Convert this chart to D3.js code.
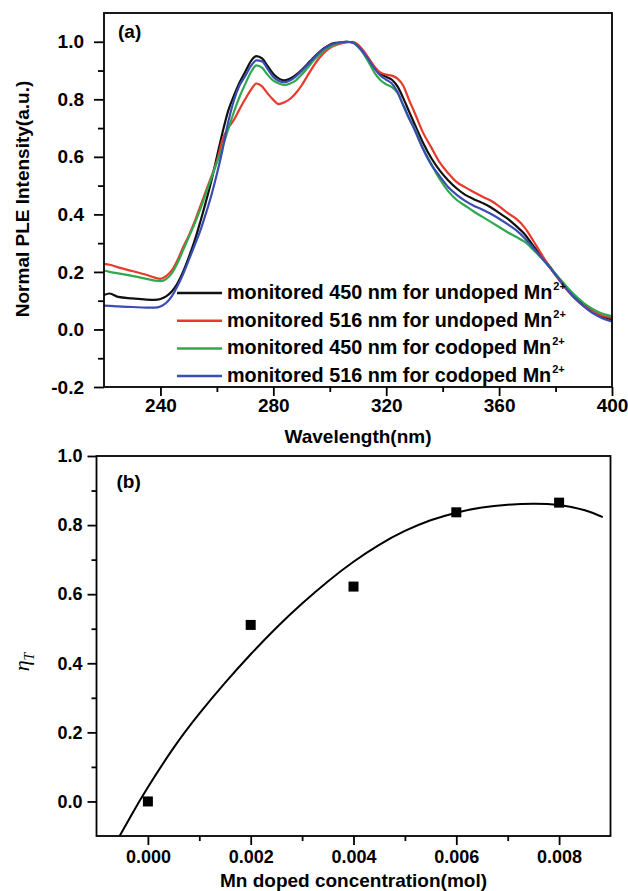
<!DOCTYPE html>
<html>
<head>
<meta charset="utf-8">
<script src="https://cdn.jsdelivr.net/npm/d3@7"></script>
<style>
  body { margin: 0; background: #fff; }
  svg { display: block; }
</style>
</head>
<body>
<svg id="chart" width="628" height="891"></svg>
<script>
// ---- panel (a): PLE spectra, wavelength grid + one array per curve
var wavelength = [220, 222, 225, 230, 235, 238, 240,
    242, 244, 246, 248, 250, 252, 254, 256, 258, 260, 262, 264, 266, 268, 270, 272, 274, 276, 278, 280,
    282, 284, 286, 288, 290, 292, 294, 296, 298, 300, 302, 304, 306, 308, 310, 312, 314, 316, 318, 320,
    322, 324, 326, 328, 330,
    333, 336, 339, 342, 345, 348, 351, 354, 357, 360, 363, 366, 369, 372, 375, 378, 381, 384, 387, 390, 393, 396, 400];

var undoped450 = [0.120, 0.125, 0.113, 0.108, 0.104, 0.103, 0.106,
    0.115, 0.132, 0.160, 0.200, 0.250, 0.305, 0.370, 0.440, 0.515, 0.600, 0.685, 0.760, 0.812, 0.858, 0.895, 0.932, 0.950, 0.942, 0.915, 0.888,
    0.872, 0.866, 0.872, 0.885, 0.902, 0.922, 0.943, 0.962, 0.978, 0.990, 0.996, 0.998, 1.000, 0.998, 0.985, 0.962, 0.935, 0.908, 0.888, 0.878,
    0.868, 0.845, 0.805, 0.760, 0.715,
    0.650, 0.595, 0.552, 0.518, 0.490, 0.468, 0.453, 0.440, 0.425, 0.405, 0.385, 0.360, 0.332, 0.292, 0.255, 0.218, 0.180, 0.145, 0.112, 0.085, 0.064, 0.048, 0.035];

var undoped516 = [0.228, 0.225, 0.216, 0.203, 0.190, 0.180, 0.176,
    0.185, 0.205, 0.240, 0.285, 0.325, 0.372, 0.425, 0.478, 0.530, 0.585, 0.660, 0.700, 0.728, 0.765, 0.800, 0.832, 0.855, 0.845, 0.820, 0.798,
    0.783, 0.790, 0.802, 0.822, 0.848, 0.880, 0.912, 0.940, 0.962, 0.978, 0.988, 0.994, 0.998, 1.000, 0.990, 0.968, 0.940, 0.912, 0.893, 0.886,
    0.882, 0.872, 0.848, 0.800, 0.755,
    0.685, 0.632, 0.580, 0.543, 0.512, 0.494, 0.478, 0.462, 0.448, 0.428, 0.405, 0.385, 0.355, 0.310, 0.262, 0.215, 0.175, 0.138, 0.106, 0.082, 0.063, 0.050, 0.040];

var codoped450 = [0.205, 0.200, 0.195, 0.186, 0.176, 0.170, 0.168,
    0.175, 0.195, 0.230, 0.275, 0.320, 0.365, 0.415, 0.470, 0.525, 0.580, 0.635, 0.695, 0.755, 0.808, 0.852, 0.893, 0.918, 0.910, 0.885, 0.865,
    0.855, 0.850, 0.855, 0.866, 0.885, 0.908, 0.932, 0.952, 0.970, 0.982, 0.992, 0.997, 1.000, 0.998, 0.983, 0.958, 0.925, 0.890, 0.866, 0.852,
    0.842, 0.822, 0.780, 0.735, 0.700,
    0.630, 0.575, 0.522, 0.480, 0.450, 0.430, 0.410, 0.392, 0.374, 0.356, 0.338, 0.322, 0.305, 0.278, 0.248, 0.215, 0.182, 0.148, 0.118, 0.092, 0.072, 0.057, 0.046];

var codoped516 = [0.083, 0.082, 0.080, 0.078, 0.076, 0.076, 0.080,
    0.092, 0.115, 0.150, 0.192, 0.240, 0.290, 0.340, 0.400, 0.465, 0.540, 0.625, 0.720, 0.795, 0.848, 0.880, 0.915, 0.935, 0.932, 0.905, 0.878,
    0.864, 0.860, 0.866, 0.880, 0.898, 0.918, 0.940, 0.960, 0.976, 0.988, 0.995, 0.998, 1.000, 0.998, 0.985, 0.962, 0.935, 0.905, 0.882, 0.868,
    0.855, 0.825, 0.780, 0.737, 0.695,
    0.628, 0.572, 0.532, 0.494, 0.468, 0.447, 0.430, 0.417, 0.402, 0.385, 0.366, 0.345, 0.318, 0.285, 0.250, 0.215, 0.178, 0.140, 0.108, 0.080, 0.058, 0.042, 0.028];

var seriesLabels = ["monitored 450 nm for undoped Mn", "monitored 516 nm for undoped Mn",
    "monitored 450 nm for codoped Mn", "monitored 516 nm for codoped Mn"];

// ---- panel (b): efficiency vs Mn concentration
var concentration = [0.000, 0.002, 0.004, 0.006, 0.008];
var efficiency = [0.000, 0.511, 0.622, 0.837, 0.865];

// fitted curve
var fitConcentration = [-0.00055, -0.0003, 0, 0.0005, 0.001, 0.0015, 0.002, 0.0025, 0.003, 0.0035, 0.004,
    0.0045, 0.005, 0.0055, 0.006, 0.0065, 0.007, 0.0075, 0.008, 0.0085, 0.00885];
var fitEfficiency = [-0.100, -0.034, 0.041, 0.155, 0.254, 0.343, 0.426, 0.503, 0.573, 0.637, 0.694,
    0.743, 0.783, 0.814, 0.836, 0.851, 0.859, 0.862, 0.858, 0.843, 0.823];

// ticks
var aXTicks = [240, 280, 320, 360, 400];
var aXMinor = [260, 300, 340, 380];
var aYTicks = [-0.2, 0, 0.2, 0.4, 0.6, 0.8, 1.0];
var aYMinor = [-0.1, 0.1, 0.3, 0.5, 0.7, 0.9];
var bXTicks = [0, 0.002, 0.004, 0.006, 0.008];
var bXMinor = [0.001, 0.003, 0.005, 0.007];
var bYTicks = [0, 0.2, 0.4, 0.6, 0.8, 1.0];
var bYMinor = [0.1, 0.3, 0.5, 0.7, 0.9];

var font = '"Liberation Sans", Arial, Helvetica, sans-serif';
var svg = d3.select("#chart");

function styleAxis(g, size) {
    g.attr("font-family", font).attr("font-size", size).attr("font-weight", "bold");
    g.select(".domain").remove();
    g.selectAll("line").attr("stroke", "#000").attr("stroke-width", 1.8);
    g.selectAll("text").attr("fill", "#000");
}

// ================= panel (a)
var marginA = { left: 104, top: 13 };
var widthA = 508, heightA = 374;
var gA = svg.append("g").attr("transform", "translate(" + marginA.left + "," + marginA.top + ")");

var xA = d3.scaleLinear().domain([220, 400]).range([0, widthA]);
var yA = d3.scaleLinear().domain([-0.2, 1.1]).range([heightA, 0]);

gA.append("g").attr("transform", "translate(0," + heightA + ")")
    .call(d3.axisBottom(xA).tickValues(aXTicks).tickSize(9).tickPadding(3).tickSizeOuter(0).tickFormat(d3.format("d")))
    .call(styleAxis, 19);
gA.append("g").attr("transform", "translate(0," + heightA + ")")
    .call(d3.axisBottom(xA).tickValues(aXMinor).tickSize(5).tickSizeOuter(0).tickFormat(""))
    .call(styleAxis, 19);
gA.append("g")
    .call(d3.axisLeft(yA).tickValues(aYTicks).tickSize(10).tickPadding(10).tickSizeOuter(0).tickFormat(function(d) { return d.toFixed(1); }))
    .call(styleAxis, 19);
gA.append("g")
    .call(d3.axisLeft(yA).tickValues(aYMinor).tickSize(6).tickSizeOuter(0).tickFormat(""))
    .call(styleAxis, 19);

var colorScale = d3.scaleOrdinal()
    .domain(seriesLabels)
    .range(["#111111", "#e8392c", "#2fa84f", "#3b4cb2"]);

var series = [undoped450, undoped516, codoped450, codoped516].map(function(vals, i) {
    return { name: seriesLabels[i], values: wavelength.map(function(w, j) { return { x: w, y: vals[j] }; }) };
});

var lineA = d3.line()
    .x(function(d) { return xA(d.x); })
    .y(function(d) { return yA(d.y); })
    .curve(d3.curveMonotoneX);

series.forEach(function(s) {
    gA.append("path")
        .datum(s.values)
        .attr("d", lineA)
        .style("fill", "none")
        .style("stroke", colorScale(s.name))
        .style("stroke-width", 2.2);
});

gA.append("rect")
    .attr("width", widthA).attr("height", heightA)
    .attr("fill", "none").attr("stroke", "#000").attr("stroke-width", 1.8);

// legend
var legend = gA.append("g").attr("transform", "translate(73,280)");
series.forEach(function(s, i) {
    var row = legend.append("g").attr("transform", "translate(0," + (i * 27.7) + ")");
    row.append("line")
        .attr("x1", 0).attr("x2", 45).attr("y1", 0).attr("y2", 0)
        .attr("stroke", colorScale(s.name)).attr("stroke-width", 2.5);
    var t = row.append("text")
        .attr("x", 50).attr("y", 6)
        .attr("font-family", font).attr("font-size", 19.8).attr("font-weight", "bold")
        .text(s.name);
    t.append("tspan").attr("dy", -9).attr("dx", 1).attr("font-size", 11).text("2+");
});

gA.append("text")
    .attr("x", 14).attr("y", 25)
    .attr("font-family", font).attr("font-size", 19).attr("font-weight", "bold")
    .text("(a)");

gA.append("text")
    .attr("x", widthA / 2).attr("y", heightA + 56)
    .attr("text-anchor", "middle")
    .attr("font-family", font).attr("font-size", 19).attr("font-weight", "bold")
    .text("Wavelength(nm)");

svg.append("text")
    .attr("transform", "translate(29,199) rotate(-90)")
    .attr("text-anchor", "middle")
    .attr("font-family", font).attr("font-size", 19).attr("font-weight", "bold")
    .text("Normal PLE Intensity(a.u.)");

// ================= panel (b)
var marginB = { left: 96.5, top: 456 };
var widthB = 514, heightB = 380;
var gB = svg.append("g").attr("transform", "translate(" + marginB.left + "," + marginB.top + ")");

var xB = d3.scaleLinear().domain([-0.001, 0.009]).range([0, widthB]);
var yB = d3.scaleLinear().domain([-0.1, 1.0]).range([heightB, 0]);

gB.append("g").attr("transform", "translate(0," + heightB + ")")
    .call(d3.axisBottom(xB).tickValues(bXTicks).tickSize(9).tickPadding(5).tickSizeOuter(0).tickFormat(function(d) { return d.toFixed(3); }))
    .call(styleAxis, 18);
gB.append("g").attr("transform", "translate(0," + heightB + ")")
    .call(d3.axisBottom(xB).tickValues(bXMinor).tickSize(5).tickSizeOuter(0).tickFormat(""))
    .call(styleAxis, 18);
gB.append("g")
    .call(d3.axisLeft(yB).tickValues(bYTicks).tickSize(9).tickPadding(5).tickSizeOuter(0).tickFormat(function(d) { return d.toFixed(1); }))
    .call(styleAxis, 18);
gB.append("g")
    .call(d3.axisLeft(yB).tickValues(bYMinor).tickSize(5).tickSizeOuter(0).tickFormat(""))
    .call(styleAxis, 18);

var fitData = fitConcentration.map(function(c, i) { return { x: c, y: fitEfficiency[i] }; });
var lineB = d3.line()
    .x(function(d) { return xB(d.x); })
    .y(function(d) { return yB(d.y); })
    .curve(d3.curveNatural);

gB.append("path")
    .datum(fitData)
    .attr("d", lineB)
    .style("fill", "none")
    .style("stroke", "#000")
    .style("stroke-width", 2);

var sq = 10;
gB.selectAll(".pt")
    .data(concentration)
    .enter()
    .append("rect")
    .attr("class", "pt")
    .attr("x", function(d) { return xB(d) - sq / 2; })
    .attr("y", function(d, i) { return yB(efficiency[i]) - sq / 2; })
    .attr("width", sq).attr("height", sq)
    .attr("fill", "#000");

gB.append("rect")
    .attr("width", widthB).attr("height", heightB)
    .attr("fill", "none").attr("stroke", "#000").attr("stroke-width", 1.8);

gB.append("text")
    .attr("x", 20).attr("y", 32)
    .attr("font-family", font).attr("font-size", 19).attr("font-weight", "bold")
    .text("(b)");

gB.append("text")
    .attr("x", widthB / 2).attr("y", heightB + 51)
    .attr("text-anchor", "middle")
    .attr("font-family", font).attr("font-size", 19).attr("font-weight", "bold")
    .text("Mn doped concentration(mol)");

var eta = svg.append("text")
    .attr("transform", "translate(29,662) rotate(-90)")
    .attr("text-anchor", "middle")
    .attr("font-family", '"Liberation Serif", "Times New Roman", serif')
    .attr("font-style", "italic")
    .attr("font-size", 22)
    .text("η");
eta.append("tspan").attr("dy", 5).attr("font-size", 14).text("T");
</script>
</body>
</html>
